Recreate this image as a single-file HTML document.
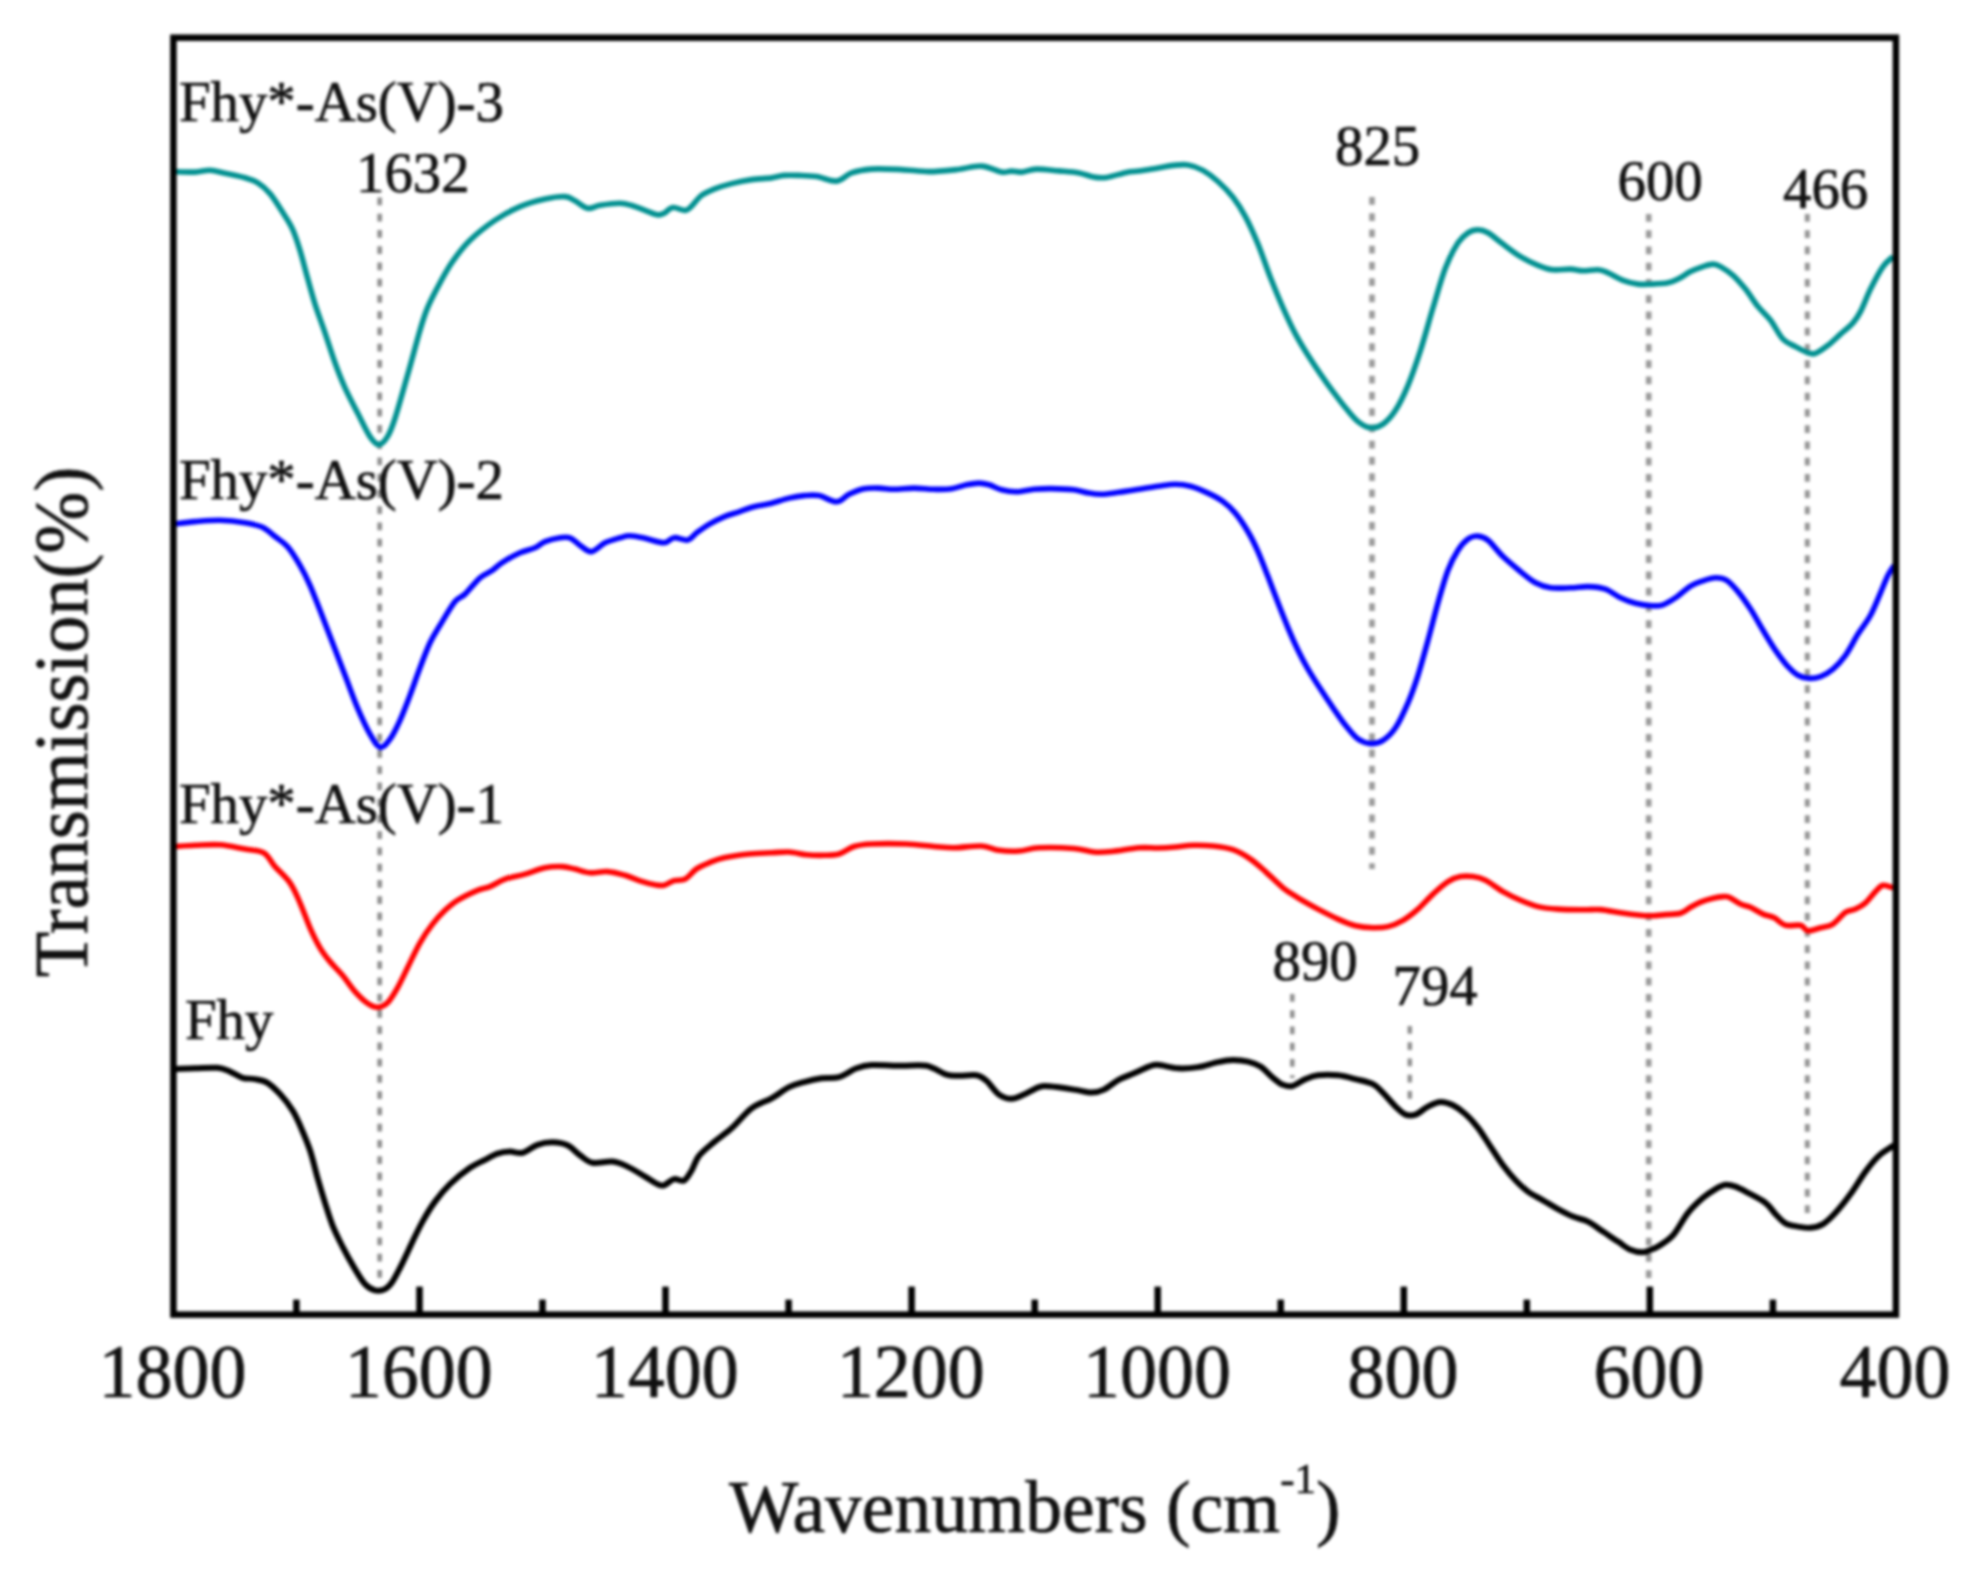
<!DOCTYPE html>
<html><head><meta charset="utf-8"><title>FTIR spectra</title>
<style>
html,body{margin:0;padding:0;background:#fff;}
svg{display:block;filter:blur(1.6px);}
text{font-family:"Liberation Serif","Times New Roman",serif;fill:#111;stroke:#111;stroke-width:0.7px;}
.ax{font-size:74px;}
.an{font-size:56.8px;}
</style></head>
<body>
<svg width="1977" height="1595" viewBox="0 0 1977 1595">
<rect width="1977" height="1595" fill="#fff"/>
<g stroke="#858585" stroke-width="5.4" stroke-dasharray="7.8 8.45" fill="none">
<line x1="379.7" y1="197.5" x2="379.7" y2="1286" stroke-width="4.6" stroke="#8c8c8c"/>
<line x1="1372" y1="197" x2="1372" y2="869" stroke-width="5.6" stroke="#999999"/>
<line x1="1648.7" y1="214" x2="1648.7" y2="1286" stroke-width="5.6" stroke="#999999"/>
<line x1="1807.3" y1="214" x2="1807.3" y2="1219" stroke-width="5.0" stroke="#949494"/>
<line x1="1292.3" y1="994" x2="1292.3" y2="1078" stroke-width="4.4" stroke="#8c8c8c"/>
<line x1="1409.8" y1="1026" x2="1409.8" y2="1103" stroke-width="4.4" stroke="#8c8c8c"/>
</g>
<g fill="none" stroke-linejoin="round" stroke-linecap="butt">
<path stroke="#009090" stroke-width="5.6" d="M173.5 171.6C177.1 171.7 188.9 172.3 195.0 172.1C201.1 171.9 205.0 170.1 210.0 170.3C215.0 170.5 219.2 172.1 225.0 173.3C230.8 174.6 239.6 176.2 245.0 177.8C250.4 179.4 253.3 180.0 257.5 182.6C261.7 185.2 265.8 188.7 270.0 193.6C274.2 198.5 278.8 206.2 282.5 212.1C286.2 218.0 289.6 222.7 292.5 229.1C295.4 235.5 297.5 242.2 300.0 250.3C302.5 258.4 305.0 268.8 307.5 277.8C310.0 286.8 312.1 294.9 315.0 304.1C317.9 313.3 321.7 323.0 325.0 332.8C328.3 342.6 331.7 353.6 335.0 362.8C338.3 372.0 341.2 379.5 345.0 387.8C348.8 396.1 353.3 404.7 357.5 412.8C361.7 420.9 366.4 431.3 370.0 436.6C373.6 441.9 375.9 444.6 378.8 444.6C381.7 444.6 384.8 441.0 387.5 436.6C390.2 432.2 391.7 428.5 395.0 418.3C398.3 408.1 403.3 390.0 407.5 375.3C411.7 360.6 416.7 341.6 420.0 330.3C423.3 319.1 424.2 315.7 427.5 307.8C430.8 299.9 435.8 290.5 440.0 282.8C444.2 275.1 447.5 268.7 452.5 261.6C457.5 254.5 462.9 247.2 470.0 240.3C477.1 233.4 486.7 225.9 495.0 220.3C503.3 214.7 511.7 210.1 520.0 206.6C528.3 203.1 537.5 200.8 545.0 199.1C552.5 197.4 560.0 196.3 565.0 196.6C570.0 196.9 571.2 198.9 575.0 200.8C578.8 202.8 583.3 207.6 587.5 208.3C591.7 209.1 594.6 206.1 600.0 205.3C605.4 204.5 614.6 203.2 620.0 203.3C625.4 203.4 628.3 204.6 632.5 205.8C636.7 207.0 640.8 208.8 645.0 210.3C649.2 211.8 654.3 214.3 657.5 214.8C660.7 215.3 661.5 214.5 664.0 213.3C666.5 212.1 669.2 208.1 672.8 207.6C676.3 207.1 682.2 210.6 685.3 210.4C688.4 210.1 688.8 208.8 691.5 206.3C694.2 203.8 697.8 198.3 701.5 195.4C705.2 192.5 709.0 191.1 714.0 189.1C719.0 187.1 725.2 185.2 731.5 183.6C737.8 182.0 744.8 180.5 751.5 179.6C758.2 178.7 766.1 178.6 771.5 177.9C776.9 177.2 779.4 175.8 784.0 175.4C788.6 175.0 793.6 175.2 799.0 175.4C804.4 175.6 810.2 175.7 816.5 176.6C822.8 177.5 830.7 181.7 836.5 181.1C842.3 180.5 845.7 174.9 851.5 172.9C857.3 170.9 863.2 169.7 871.5 169.1C879.8 168.5 891.9 169.2 901.5 169.6C911.1 170.0 919.8 171.6 929.0 171.6C938.2 171.6 947.8 170.5 956.5 169.6C965.2 168.7 974.0 165.7 981.5 166.1C989.0 166.5 996.5 171.3 1001.5 172.1C1006.5 172.9 1008.2 171.1 1011.5 171.1C1014.8 171.1 1017.3 172.4 1021.5 172.1C1025.7 171.8 1030.2 169.3 1036.5 169.1C1042.8 168.9 1051.9 170.3 1059.0 170.9C1066.1 171.5 1073.2 171.9 1079.0 172.9C1084.8 173.9 1089.4 176.3 1094.0 177.1C1098.6 177.8 1101.1 178.2 1106.5 177.4C1111.9 176.6 1121.1 173.5 1126.5 172.4C1131.9 171.3 1133.8 171.8 1139.0 171.1C1144.2 170.4 1152.3 169.0 1158.0 168.1C1163.7 167.2 1168.0 165.9 1173.0 165.4C1178.0 164.9 1183.0 164.1 1188.0 164.9C1193.0 165.7 1198.0 167.6 1203.0 170.4C1208.0 173.2 1213.0 177.0 1218.0 181.5C1223.0 186.0 1228.4 191.4 1233.0 197.2C1237.6 203.1 1241.3 209.0 1245.5 216.8C1249.7 224.6 1253.8 233.9 1258.0 244.1C1262.2 254.3 1266.3 267.2 1270.5 277.8C1274.7 288.4 1278.8 298.4 1283.0 307.8C1287.2 317.2 1291.3 326.2 1295.5 334.1C1299.7 342.0 1303.8 348.6 1308.0 355.3C1312.2 362.0 1316.3 368.1 1320.5 374.1C1324.7 380.2 1328.8 386.0 1333.0 391.6C1337.2 397.2 1341.3 402.8 1345.5 407.8C1349.7 412.8 1353.8 418.3 1358.0 421.6C1362.2 424.9 1366.3 427.4 1370.5 427.8C1374.7 428.2 1378.8 427.0 1383.0 424.1C1387.2 421.2 1391.3 416.8 1395.5 410.3C1399.7 403.8 1403.8 395.3 1408.0 385.3C1412.2 375.3 1416.3 363.2 1420.5 350.3C1424.7 337.4 1428.8 321.6 1433.0 307.8C1437.2 294.1 1441.3 278.6 1445.5 267.8C1449.7 257.0 1454.2 248.6 1458.0 242.8C1461.8 237.0 1464.7 235.0 1468.0 232.8C1471.3 230.6 1474.7 229.8 1478.0 229.8C1481.3 229.8 1483.8 230.4 1488.0 232.8C1492.2 235.2 1497.6 240.1 1503.0 244.1C1508.4 248.1 1514.7 253.1 1520.5 256.6C1526.3 260.1 1532.6 263.1 1538.0 265.3C1543.4 267.5 1547.6 269.2 1553.0 269.8C1558.4 270.4 1565.5 268.9 1570.5 269.1C1575.5 269.3 1578.4 270.7 1583.0 270.8C1587.6 270.9 1593.8 269.5 1598.0 269.8C1602.2 270.1 1603.8 271.1 1608.0 272.8C1612.2 274.6 1618.0 278.4 1623.0 280.3C1628.0 282.2 1633.2 283.5 1638.0 284.1C1642.8 284.7 1647.0 284.3 1652.0 284.1C1657.0 283.9 1663.7 283.6 1668.0 282.8C1672.3 282.0 1674.2 281.0 1678.0 279.1C1681.8 277.2 1686.3 273.7 1690.5 271.6C1694.7 269.5 1699.2 267.9 1703.0 266.6C1706.8 265.4 1710.1 264.1 1713.0 264.1C1715.9 264.1 1717.2 264.7 1720.5 266.6C1723.8 268.5 1728.8 271.6 1733.0 275.3C1737.2 279.1 1741.3 283.9 1745.5 289.1C1749.7 294.3 1753.8 301.4 1758.0 306.6C1762.2 311.8 1766.3 314.9 1770.5 320.3C1774.7 325.7 1778.8 334.7 1783.0 339.1C1787.2 343.5 1791.3 344.3 1795.5 346.6C1799.7 348.9 1804.7 351.7 1808.0 352.8C1811.3 353.9 1812.2 354.6 1815.5 353.3C1818.8 352.1 1823.8 348.5 1828.0 345.3C1832.2 342.1 1836.3 337.9 1840.5 334.1C1844.7 330.4 1849.7 326.6 1853.0 322.8C1856.3 319.1 1857.6 317.2 1860.5 311.6C1863.4 306.0 1866.8 296.6 1870.5 289.1C1874.2 281.6 1879.2 272.0 1883.0 266.6C1886.8 261.2 1891.3 258.3 1893.0 256.6"/>
<path stroke="#0000ff" stroke-width="5.6" d="M173.5 524.1C177.1 523.7 187.2 522.2 195.0 521.6C202.8 521.0 211.7 520.1 220.0 520.3C228.3 520.5 237.9 521.6 245.0 522.8C252.1 524.0 257.5 525.0 262.5 527.3C267.5 529.6 270.8 533.4 275.0 536.6C279.2 539.8 283.3 541.8 287.5 546.6C291.7 551.4 296.2 558.8 300.0 565.3C303.8 571.8 306.7 577.8 310.0 585.3C313.3 592.8 316.2 600.7 320.0 610.3C323.8 619.9 328.3 632.0 332.5 642.8C336.7 653.6 340.8 664.5 345.0 675.3C349.2 686.1 353.3 698.0 357.5 707.8C361.7 717.6 366.2 727.5 370.0 734.1C373.8 740.7 376.7 746.5 380.0 747.3C383.3 748.1 386.7 743.6 390.0 739.1C393.3 734.6 396.7 727.6 400.0 720.3C403.3 713.0 406.7 704.0 410.0 695.3C413.3 686.5 416.7 676.5 420.0 667.8C423.3 659.0 426.7 649.9 430.0 642.8C433.3 635.7 435.8 632.2 440.0 625.3C444.2 618.4 450.8 606.8 455.0 601.6C459.2 596.4 460.8 598.1 465.0 594.1C469.2 590.1 475.4 581.8 480.0 577.8C484.6 573.8 488.8 572.9 492.5 570.3C496.2 567.7 497.9 565.2 502.5 562.3C507.1 559.4 514.6 555.2 520.0 552.8C525.4 550.4 530.8 549.7 535.0 547.8C539.2 545.9 540.8 543.3 545.0 541.6C549.2 539.9 555.8 538.4 560.0 537.8C564.2 537.2 566.7 536.5 570.0 537.8C573.3 539.0 576.5 543.0 580.0 545.3C583.5 547.6 587.1 552.0 591.3 551.6C595.5 551.2 600.2 545.1 605.0 542.8C609.8 540.5 615.8 539.0 620.0 537.8C624.2 536.6 625.8 535.7 630.0 535.8C634.2 535.9 639.3 537.1 645.0 538.3C650.7 539.5 659.2 542.9 664.0 542.8C668.8 542.7 670.0 538.1 674.0 537.7C678.0 537.2 684.0 540.9 687.8 540.1C691.5 539.3 693.0 535.6 696.5 532.9C700.0 530.3 704.4 527.0 709.0 524.3C713.6 521.6 719.0 518.9 724.0 516.8C729.0 514.7 734.0 513.5 739.0 511.8C744.0 510.1 749.0 508.1 754.0 506.8C759.0 505.5 763.2 505.2 769.0 503.8C774.8 502.4 783.2 499.5 789.0 498.1C794.8 496.7 799.0 496.0 804.0 495.6C809.0 495.2 813.6 494.6 819.0 495.6C824.4 496.6 831.5 502.0 836.5 501.8C841.5 501.6 844.4 496.5 849.0 494.3C853.6 492.1 859.0 489.8 864.0 488.8C869.0 487.8 874.0 488.0 879.0 488.1C884.0 488.2 888.2 489.3 894.0 489.3C899.8 489.3 907.3 488.1 914.0 488.1C920.7 488.1 927.8 489.2 934.0 489.3C940.2 489.4 946.1 489.6 951.5 488.8C956.9 488.1 961.9 485.8 966.5 484.8C971.1 483.9 975.2 483.1 979.0 483.1C982.8 483.1 985.2 483.7 989.0 484.8C992.8 485.9 996.9 488.6 1001.5 489.8C1006.1 491.0 1011.1 491.9 1016.5 491.8C1021.9 491.7 1028.2 489.8 1034.0 489.3C1039.8 488.8 1044.8 488.5 1051.5 488.6C1058.2 488.7 1067.8 489.1 1074.0 489.8C1080.2 490.6 1084.4 492.4 1089.0 493.1C1093.6 493.9 1096.5 494.4 1101.5 494.3C1106.5 494.2 1112.8 493.1 1119.0 492.3C1125.2 491.5 1132.5 490.3 1139.0 489.3C1145.5 488.3 1151.9 487.1 1158.0 486.3C1164.1 485.5 1170.1 484.3 1175.5 484.3C1180.9 484.3 1185.1 484.8 1190.5 486.3C1195.9 487.8 1202.6 490.6 1208.0 493.1C1213.4 495.6 1218.4 498.1 1223.0 501.5C1227.6 504.8 1231.3 508.4 1235.5 513.4C1239.7 518.5 1244.2 525.3 1248.0 531.7C1251.8 538.0 1254.7 544.1 1258.0 551.6C1261.3 559.1 1264.7 568.1 1268.0 576.6C1271.3 585.1 1274.7 594.3 1278.0 602.8C1281.3 611.3 1284.7 619.9 1288.0 627.8C1291.3 635.7 1294.7 643.4 1298.0 650.3C1301.3 657.2 1304.2 662.6 1308.0 669.1C1311.8 675.6 1316.3 682.6 1320.5 689.1C1324.7 695.5 1328.8 701.8 1333.0 707.8C1337.2 713.8 1341.3 720.1 1345.5 725.3C1349.7 730.5 1353.8 736.0 1358.0 739.1C1362.2 742.1 1366.3 743.4 1370.5 743.6C1374.7 743.8 1378.8 742.9 1383.0 740.3C1387.2 737.7 1391.3 734.0 1395.5 727.8C1399.7 721.5 1404.2 711.5 1408.0 702.8C1411.8 694.0 1414.7 685.7 1418.0 675.3C1421.3 664.9 1424.7 652.4 1428.0 640.3C1431.3 628.2 1434.7 614.5 1438.0 602.8C1441.3 591.1 1444.7 579.0 1448.0 570.3C1451.3 561.5 1454.7 555.5 1458.0 550.3C1461.3 545.1 1464.7 541.5 1468.0 539.1C1471.3 536.7 1474.7 535.9 1478.0 536.1C1481.3 536.3 1483.8 536.9 1488.0 540.3C1492.2 543.7 1497.6 551.4 1503.0 556.6C1508.4 561.8 1515.1 567.2 1520.5 571.6C1525.9 576.0 1530.5 580.1 1535.5 582.8C1540.5 585.5 1544.7 587.0 1550.5 587.8C1556.3 588.6 1564.2 588.0 1570.5 587.8C1576.8 587.6 1582.2 586.4 1588.0 586.6C1593.8 586.8 1600.1 587.2 1605.5 589.1C1610.9 591.0 1615.5 595.4 1620.5 597.8C1625.5 600.2 1630.2 602.0 1635.5 603.3C1640.8 604.6 1647.4 605.5 1652.0 605.8C1656.6 606.0 1659.1 606.1 1663.0 604.8C1666.9 603.5 1670.9 600.9 1675.5 597.8C1680.1 594.7 1685.9 588.9 1690.5 586.1C1695.1 583.3 1698.8 582.2 1703.0 580.8C1707.2 579.4 1711.5 577.9 1715.5 577.8C1719.5 577.7 1723.0 578.0 1726.8 580.3C1730.5 582.6 1734.0 586.8 1738.0 591.6C1742.0 596.4 1746.3 602.6 1750.5 609.1C1754.7 615.5 1758.8 623.4 1763.0 630.3C1767.2 637.2 1771.3 644.2 1775.5 650.3C1779.7 656.3 1784.2 662.4 1788.0 666.6C1791.8 670.8 1794.7 673.3 1798.0 675.3C1801.3 677.2 1804.2 678.1 1808.0 678.3C1811.8 678.5 1816.3 678.1 1820.5 676.6C1824.7 675.1 1828.8 672.6 1833.0 669.1C1837.2 665.5 1841.3 661.1 1845.5 655.3C1849.7 649.5 1853.8 640.8 1858.0 634.1C1862.2 627.4 1866.8 622.2 1870.5 615.3C1874.2 608.4 1877.6 599.5 1880.5 592.8C1883.4 586.1 1885.7 579.9 1888.0 575.3C1890.3 570.7 1893.2 567.0 1894.3 565.3"/>
<path stroke="#ff0000" stroke-width="5.6" d="M173.5 846.6C177.1 846.4 187.2 845.6 195.0 845.3C202.8 845.0 211.7 844.2 220.0 844.8C228.3 845.4 237.7 847.8 245.0 849.1C252.3 850.4 258.8 849.9 263.8 852.8C268.8 855.7 270.6 861.6 275.0 866.6C279.4 871.6 285.8 876.8 290.0 882.8C294.2 888.8 296.7 895.3 300.0 902.8C303.3 910.3 306.7 920.3 310.0 927.8C313.3 935.3 316.7 942.2 320.0 947.8C323.3 953.4 326.2 957.0 330.0 961.6C333.8 966.2 338.3 970.3 342.5 975.3C346.7 980.3 350.8 986.9 355.0 991.6C359.2 996.3 363.8 1000.7 367.5 1003.3C371.2 1005.9 374.2 1007.4 377.5 1007.3C380.8 1007.2 384.2 1006.0 387.5 1002.8C390.8 999.5 394.2 993.6 397.5 987.8C400.8 982.0 403.8 975.3 407.5 967.8C411.2 960.3 415.8 950.1 420.0 942.8C424.2 935.5 428.3 929.5 432.5 924.1C436.7 918.7 440.8 914.3 445.0 910.3C449.2 906.3 452.1 903.6 457.5 900.3C462.9 897.0 472.1 892.6 477.5 890.3C482.9 888.0 485.4 888.5 490.0 886.6C494.6 884.7 499.2 881.2 505.0 879.1C510.8 877.0 518.3 876.0 525.0 874.1C531.7 872.2 538.8 869.0 545.0 867.8C551.2 866.5 557.5 866.4 562.5 866.6C567.5 866.8 570.4 868.1 575.0 869.1C579.6 870.1 584.6 872.4 590.0 872.8C595.4 873.2 601.7 871.2 607.5 871.6C613.3 872.0 619.6 873.8 625.0 875.3C630.4 876.8 635.0 879.2 640.0 880.8C645.0 882.4 651.0 884.0 655.0 884.8C659.0 885.5 660.8 886.0 664.0 885.3C667.2 884.6 670.5 881.7 674.0 880.6C677.5 879.6 681.5 881.0 685.3 879.0C689.0 877.0 692.5 871.6 696.5 868.9C700.5 866.2 704.4 864.6 709.0 862.8C713.6 861.0 717.3 859.3 724.0 857.8C730.7 856.3 741.1 854.8 749.0 854.0C756.9 853.2 764.8 853.1 771.5 852.8C778.2 852.5 783.2 851.7 789.0 852.0C794.8 852.3 800.7 854.2 806.5 854.8C812.3 855.3 818.6 855.4 824.0 855.3C829.4 855.2 834.0 855.5 839.0 854.0C844.0 852.5 848.6 848.2 854.0 846.5C859.4 844.8 862.8 844.4 871.5 844.0C880.2 843.6 896.1 843.6 906.5 844.0C916.9 844.4 926.1 845.9 934.0 846.5C941.9 847.1 946.1 847.9 954.0 847.8C961.9 847.7 974.0 845.6 981.5 846.0C989.0 846.4 992.8 849.5 999.0 850.3C1005.2 851.1 1012.3 851.4 1019.0 851.0C1025.7 850.6 1029.8 848.2 1039.0 847.8C1048.2 847.4 1064.8 847.8 1074.0 848.5C1083.2 849.2 1087.8 851.5 1094.0 852.0C1100.2 852.5 1104.0 852.2 1111.5 851.5C1119.0 850.8 1131.2 848.4 1139.0 847.8C1146.8 847.2 1151.9 848.1 1158.0 848.0C1164.1 847.9 1169.7 847.5 1175.5 847.0C1181.3 846.5 1186.8 845.5 1193.0 845.3C1199.2 845.1 1206.3 845.3 1213.0 846.0C1219.7 846.7 1226.8 847.5 1233.0 849.7C1239.2 851.9 1245.1 855.4 1250.5 859.1C1255.9 862.8 1260.1 866.8 1265.5 871.6C1270.9 876.4 1277.6 883.4 1283.0 887.8C1288.4 892.2 1292.2 894.2 1298.0 897.8C1303.8 901.3 1311.3 905.5 1318.0 909.1C1324.7 912.6 1331.8 916.3 1338.0 919.1C1344.2 921.9 1349.7 924.3 1355.5 925.8C1361.3 927.2 1367.6 927.7 1373.0 927.8C1378.4 927.9 1383.0 927.8 1388.0 926.6C1393.0 925.3 1398.0 923.2 1403.0 920.3C1408.0 917.4 1413.0 913.5 1418.0 909.1C1423.0 904.7 1428.0 898.7 1433.0 894.1C1438.0 889.5 1443.4 884.5 1448.0 881.6C1452.6 878.7 1456.3 877.4 1460.5 876.6C1464.7 875.8 1468.8 876.0 1473.0 876.6C1477.2 877.2 1480.5 877.8 1485.5 880.3C1490.5 882.8 1497.2 888.3 1503.0 891.6C1508.8 894.9 1514.7 897.8 1520.5 900.3C1526.3 902.8 1531.8 905.1 1538.0 906.6C1544.2 908.1 1550.5 908.6 1558.0 909.1C1565.5 909.6 1575.9 909.7 1583.0 909.8C1590.1 909.9 1594.2 909.1 1600.5 909.6C1606.8 910.1 1613.8 911.8 1620.5 912.8C1627.2 913.8 1635.2 914.8 1640.5 915.3C1645.8 915.8 1647.8 915.9 1652.0 915.8C1656.2 915.7 1660.8 915.0 1665.5 914.6C1670.2 914.2 1676.3 914.5 1680.5 913.3C1684.7 912.1 1687.2 909.2 1690.5 907.3C1693.8 905.4 1696.8 903.6 1700.5 902.1C1704.2 900.6 1709.2 899.2 1713.0 898.3C1716.8 897.4 1720.3 896.8 1723.0 896.6C1725.7 896.4 1726.4 896.0 1729.3 897.3C1732.2 898.5 1737.0 902.4 1740.5 904.1C1744.0 905.8 1746.8 905.6 1750.5 907.3C1754.2 909.0 1759.0 912.3 1763.0 914.1C1767.0 915.8 1770.5 915.9 1774.3 917.8C1778.0 919.7 1781.1 924.0 1785.5 925.3C1789.9 926.5 1796.8 924.4 1800.5 925.3C1804.2 926.2 1804.7 930.4 1808.0 930.8C1811.3 931.2 1816.3 928.9 1820.5 927.8C1824.7 926.7 1828.8 926.7 1833.0 924.1C1837.2 921.5 1841.8 914.8 1845.5 912.3C1849.2 909.8 1852.2 910.7 1855.5 909.1C1858.8 907.5 1862.2 905.7 1865.5 902.8C1868.8 899.9 1872.6 894.5 1875.5 891.6C1878.4 888.7 1880.1 885.9 1883.0 885.3C1885.9 884.7 1891.3 887.4 1893.0 887.8"/>
<path stroke="#000000" stroke-width="6.0" d="M173.5 1069.1C177.1 1069.0 187.7 1068.5 195.0 1068.3C202.3 1068.1 211.7 1067.2 217.5 1067.8C223.3 1068.3 225.8 1069.9 230.0 1071.6C234.2 1073.3 238.3 1076.5 242.5 1077.8C246.7 1079.0 250.8 1078.3 255.0 1079.1C259.2 1079.9 263.3 1080.3 267.5 1082.8C271.7 1085.3 275.8 1089.5 280.0 1094.1C284.2 1098.7 289.2 1105.1 292.5 1110.3C295.8 1115.5 297.1 1118.6 300.0 1125.3C302.9 1132.0 307.1 1141.5 310.0 1150.3C312.9 1159.0 315.0 1169.0 317.5 1177.8C320.0 1186.5 322.5 1194.9 325.0 1202.8C327.5 1210.7 329.6 1218.0 332.5 1225.3C335.4 1232.6 338.8 1239.3 342.5 1246.6C346.2 1253.9 351.2 1262.8 355.0 1269.1C358.8 1275.3 361.7 1280.6 365.0 1284.1C368.3 1287.6 371.7 1289.5 375.0 1290.3C378.3 1291.1 382.1 1290.5 385.0 1289.1C387.9 1287.6 389.6 1286.0 392.5 1281.6C395.4 1277.2 399.2 1269.5 402.5 1262.8C405.8 1256.1 409.2 1248.5 412.5 1241.6C415.8 1234.7 418.8 1228.3 422.5 1221.6C426.2 1214.9 430.4 1207.8 435.0 1201.6C439.6 1195.3 444.2 1189.7 450.0 1184.1C455.8 1178.5 464.2 1171.8 470.0 1167.8C475.8 1163.8 480.4 1162.2 485.0 1159.8C489.6 1157.4 493.3 1155.0 497.5 1153.6C501.7 1152.2 505.8 1151.7 510.0 1151.6C514.2 1151.5 517.9 1153.9 522.5 1152.8C527.1 1151.7 532.5 1146.5 537.5 1144.8C542.5 1143.0 547.5 1142.2 552.5 1142.3C557.5 1142.4 562.9 1143.1 567.5 1145.3C572.1 1147.5 575.8 1152.4 580.0 1155.3C584.2 1158.2 587.1 1161.8 592.5 1162.8C597.9 1163.8 606.7 1161.0 612.5 1161.6C618.3 1162.2 622.1 1164.1 627.5 1166.6C632.9 1169.1 640.0 1173.7 645.0 1176.6C650.0 1179.5 654.3 1182.6 657.5 1184.1C660.7 1185.5 661.2 1186.1 664.0 1185.3C666.8 1184.5 670.7 1180.0 674.0 1179.2C677.3 1178.4 681.1 1182.0 684.0 1180.6C686.9 1179.1 689.0 1174.8 691.5 1170.7C694.0 1166.5 695.2 1160.5 699.0 1155.8C702.8 1151.0 708.6 1146.7 714.0 1142.1C719.4 1137.5 725.2 1133.9 731.5 1128.3C737.8 1122.7 744.8 1113.3 751.5 1108.3C758.2 1103.3 765.2 1101.8 771.5 1098.3C777.8 1094.8 783.6 1089.8 789.0 1087.1C794.4 1084.4 798.6 1083.6 804.0 1082.1C809.4 1080.6 815.7 1079.1 821.5 1078.3C827.3 1077.5 833.2 1078.8 839.0 1077.1C844.8 1075.4 851.1 1070.3 856.5 1068.3C861.9 1066.3 864.0 1065.5 871.5 1065.1C879.0 1064.7 892.3 1065.7 901.5 1065.8C910.7 1065.9 919.0 1064.3 926.5 1065.8C934.0 1067.3 941.1 1072.9 946.5 1074.6C951.9 1076.3 954.0 1075.7 959.0 1075.8C964.0 1075.9 971.9 1074.5 976.5 1075.3C981.1 1076.1 982.8 1077.6 986.5 1080.8C990.2 1084.0 994.8 1091.6 999.0 1094.6C1003.2 1097.6 1007.3 1098.8 1011.5 1098.8C1015.7 1098.8 1019.4 1096.5 1024.0 1094.6C1028.6 1092.6 1034.8 1088.5 1039.0 1087.1C1043.2 1085.7 1043.2 1085.9 1049.0 1086.3C1054.8 1086.7 1066.9 1088.5 1074.0 1089.6C1081.1 1090.6 1086.5 1092.6 1091.5 1092.6C1096.5 1092.6 1099.4 1091.8 1104.0 1089.6C1108.6 1087.4 1114.0 1082.3 1119.0 1079.6C1124.0 1076.9 1129.0 1075.5 1134.0 1073.3C1139.0 1071.1 1145.0 1068.0 1149.0 1066.6C1153.0 1065.2 1153.2 1064.5 1158.0 1064.8C1162.8 1065.1 1171.3 1067.9 1178.0 1068.3C1184.7 1068.7 1191.3 1068.1 1198.0 1067.1C1204.7 1066.1 1212.2 1063.2 1218.0 1062.1C1223.8 1060.9 1228.0 1060.1 1233.0 1060.0C1238.0 1060.0 1243.4 1060.5 1248.0 1061.6C1252.6 1062.7 1256.3 1063.9 1260.5 1066.6C1264.7 1069.3 1269.2 1074.8 1273.0 1077.8C1276.8 1080.8 1279.7 1083.5 1283.0 1084.8C1286.3 1086.1 1289.2 1086.8 1293.0 1085.8C1296.8 1084.8 1301.3 1080.8 1305.5 1079.1C1309.7 1077.3 1312.6 1075.9 1318.0 1075.3C1323.4 1074.7 1331.8 1074.7 1338.0 1075.3C1344.2 1075.9 1349.7 1077.6 1355.5 1079.1C1361.3 1080.6 1368.4 1081.8 1373.0 1084.1C1377.6 1086.4 1379.2 1089.0 1383.0 1092.8C1386.8 1096.5 1391.8 1103.0 1395.5 1106.6C1399.2 1110.2 1402.2 1113.3 1405.5 1114.6C1408.8 1115.9 1411.8 1115.9 1415.5 1114.6C1419.2 1113.3 1423.8 1108.7 1428.0 1106.6C1432.2 1104.5 1436.3 1102.3 1440.5 1102.1C1444.7 1101.9 1448.8 1103.3 1453.0 1105.3C1457.2 1107.3 1461.3 1110.3 1465.5 1114.1C1469.7 1117.8 1473.8 1122.4 1478.0 1127.8C1482.2 1133.2 1486.3 1140.3 1490.5 1146.6C1494.7 1152.8 1498.8 1159.7 1503.0 1165.3C1507.2 1170.9 1511.3 1175.9 1515.5 1180.3C1519.7 1184.7 1523.4 1188.3 1528.0 1191.6C1532.6 1194.9 1538.0 1197.4 1543.0 1200.3C1548.0 1203.2 1553.0 1206.4 1558.0 1209.1C1563.0 1211.8 1568.0 1214.5 1573.0 1216.6C1578.0 1218.7 1583.0 1219.1 1588.0 1221.6C1593.0 1224.1 1598.0 1228.3 1603.0 1231.6C1608.0 1234.9 1613.4 1238.6 1618.0 1241.6C1622.6 1244.6 1626.3 1248.0 1630.5 1249.8C1634.7 1251.6 1639.4 1252.4 1643.0 1252.3C1646.6 1252.2 1649.5 1250.2 1652.0 1249.3C1654.5 1248.3 1654.5 1248.9 1658.0 1246.6C1661.5 1244.3 1668.0 1240.9 1673.0 1235.3C1678.0 1229.7 1683.0 1219.0 1688.0 1212.8C1693.0 1206.5 1698.4 1201.8 1703.0 1197.8C1707.6 1193.8 1711.8 1191.3 1715.5 1189.1C1719.2 1186.9 1722.2 1185.2 1725.5 1184.8C1728.8 1184.4 1731.8 1185.3 1735.5 1186.6C1739.2 1187.9 1743.0 1190.1 1748.0 1192.8C1753.0 1195.5 1760.9 1199.2 1765.5 1202.8C1770.1 1206.3 1772.2 1210.7 1775.5 1214.1C1778.8 1217.5 1781.8 1221.2 1785.5 1223.3C1789.2 1225.4 1793.8 1225.8 1798.0 1226.6C1802.2 1227.3 1806.3 1228.2 1810.5 1227.8C1814.7 1227.4 1818.8 1226.6 1823.0 1224.1C1827.2 1221.6 1830.9 1217.8 1835.5 1212.8C1840.1 1207.8 1845.5 1201.0 1850.5 1194.1C1855.5 1187.2 1860.9 1177.8 1865.5 1171.6C1870.1 1165.3 1874.2 1160.3 1878.0 1156.6C1881.8 1152.8 1885.3 1151.0 1888.0 1149.1C1890.7 1147.2 1893.2 1145.9 1894.3 1145.3"/>
</g>
<g stroke="#000000" fill="none">
<rect x="173.4" y="37.7" width="1722.5" height="1276.8999999999999" stroke-width="6.5"/>
<line x1="1772.9" y1="1314.6" x2="1772.9" y2="1299.6" stroke-width="6.5"/>
<line x1="1649.8" y1="1314.6" x2="1649.8" y2="1286.6" stroke-width="6.5"/>
<line x1="1526.8" y1="1314.6" x2="1526.8" y2="1299.6" stroke-width="6.5"/>
<line x1="1403.8" y1="1314.6" x2="1403.8" y2="1286.6" stroke-width="6.5"/>
<line x1="1280.7" y1="1314.6" x2="1280.7" y2="1299.6" stroke-width="6.5"/>
<line x1="1157.7" y1="1314.6" x2="1157.7" y2="1286.6" stroke-width="6.5"/>
<line x1="1034.7" y1="1314.6" x2="1034.7" y2="1299.6" stroke-width="6.5"/>
<line x1="911.6" y1="1314.6" x2="911.6" y2="1286.6" stroke-width="6.5"/>
<line x1="788.6" y1="1314.6" x2="788.6" y2="1299.6" stroke-width="6.5"/>
<line x1="665.5" y1="1314.6" x2="665.5" y2="1286.6" stroke-width="6.5"/>
<line x1="542.5" y1="1314.6" x2="542.5" y2="1299.6" stroke-width="6.5"/>
<line x1="419.5" y1="1314.6" x2="419.5" y2="1286.6" stroke-width="6.5"/>
<line x1="296.4" y1="1314.6" x2="296.4" y2="1299.6" stroke-width="6.5"/>
</g>
<g class="ax" text-anchor="middle">
<text transform="translate(1895.1 1397) scale(1 1.03)">400</text>
<text transform="translate(1649.0 1397) scale(1 1.03)">600</text>
<text transform="translate(1403.0 1397) scale(1 1.03)">800</text>
<text transform="translate(1156.9 1397) scale(1 1.03)">1000</text>
<text transform="translate(910.8 1397) scale(1 1.03)">1200</text>
<text transform="translate(664.7 1397) scale(1 1.03)">1400</text>
<text transform="translate(418.7 1397) scale(1 1.03)">1600</text>
<text transform="translate(172.6 1397) scale(1 1.03)">1800</text>
</g>
<text style="font-size:73.5px" transform="translate(729 1531.8) scale(1 1)">Wavenumbers (cm<tspan font-size="43" dy="-38.5">-1</tspan><tspan dy="38.5">)</tspan></text>
<text style="font-size:74.5px" transform="translate(87.3 722) rotate(-90) scale(1 1.03)" text-anchor="middle">Transmission(%)</text>
<g class="an">
<text transform="translate(179 121.2) scale(1 1.02)">Fhy*-As(V)-3</text>
<text transform="translate(179 498.8) scale(1 1.02)">Fhy*-As(V)-2</text>
<text transform="translate(179 822.5) scale(1 1.02)">Fhy*-As(V)-1</text>
<text transform="translate(185 1038.8) scale(1 1.02)">Fhy</text>
<text transform="translate(356 192) scale(1 1.02)">1632</text>
<text transform="translate(1335 165) scale(1 1.02)">825</text>
<text transform="translate(1617.5 200) scale(1 1.02)">600</text>
<text transform="translate(1783 207.5) scale(1 1.02)">466</text>
<text transform="translate(1272.5 980) scale(1 1.02)">890</text>
<text transform="translate(1392.5 1005) scale(1 1.02)">794</text>
</g>
</svg>
</body></html>
